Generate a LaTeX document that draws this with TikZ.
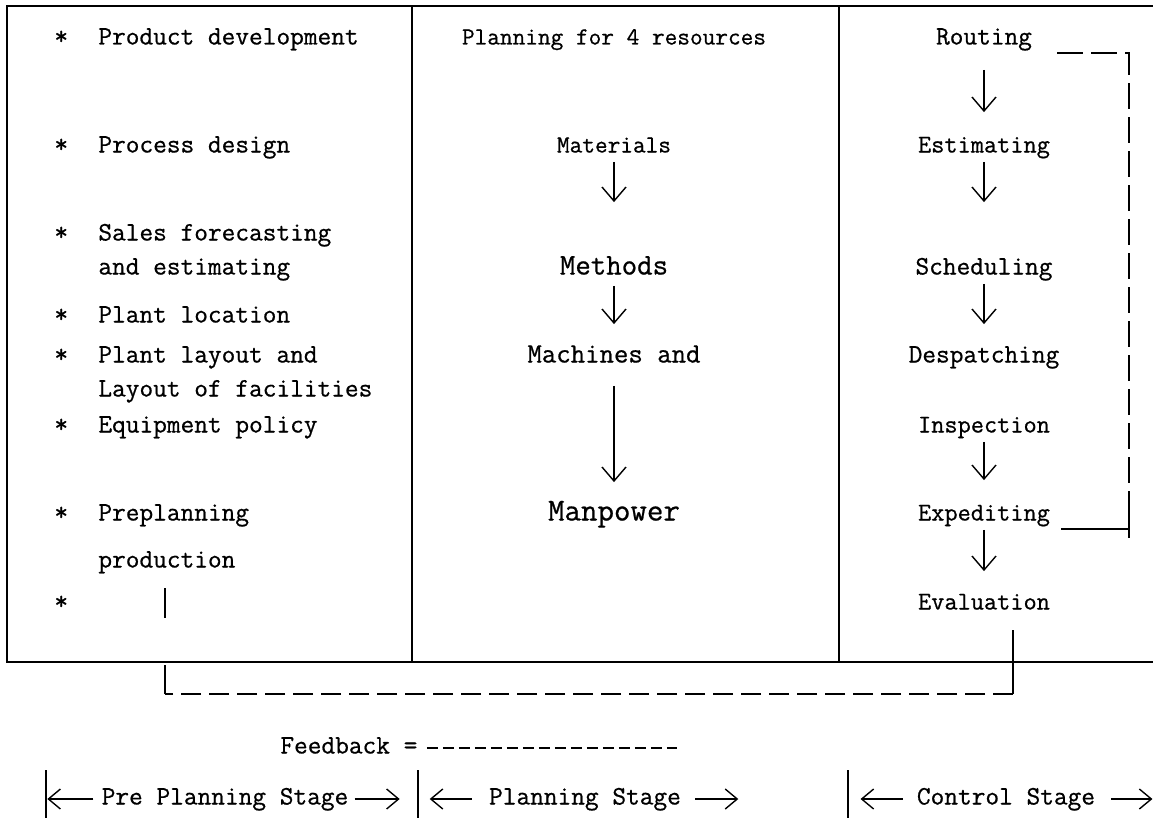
\documentclass[tikz,border=0pt]{standalone}
\usepackage{fontspec}
\setmonofont{Latin Modern Mono}[FakeBold=0.7]
\usetikzlibrary{arrows.meta}
\usetikzlibrary{positioning}

\begin{document}
\begin{tikzpicture}[x=0.5pt,y=-0.5pt]
\tikzstyle{every node}=[font=\ttfamily\fontsize{13.3}{16}\selectfont,inner sep=2pt,text height=8pt,text depth=2.5pt,yshift=-1.5pt]
\tikzstyle{small}=[font=\ttfamily\fontsize{12.3}{15}\selectfont]
\tikzstyle{ctrl}=[font=\ttfamily\fontsize{12.8}{15}\selectfont]
\tikzstyle{flow}=[-{Straight Barb[length=7pt,width=12pt]},line width=0.7pt,shorten >=9pt]
\tikzstyle{stage}=[-{Straight Barb[length=6pt,width=10pt]},line width=0.7pt]
\tikzstyle{feed}=[line width=1.2pt,dash pattern=on 10pt off 4pt]
\useasboundingbox (0,0) rectangle (1153,819);

%=== Cadre
\draw[line width=1pt] (1153,6) -- (7,6) -- (7,662) -- (1153,662);
\draw[line width=1pt] (412,6) -- (412,662);
\draw[line width=1pt] (839,6) -- (839,662);

%=== Pre planning
\foreach \y/\n in {36/1,144/2,232/3,314/4,354/5,424/6,512/7,601/8}
  \node[anchor=west] (st\n) at (50,\y) {*};
\node[anchor=west] (prod) at (94,36) {Product development};
\node[anchor=west] (proc) at (94,144) {Process design};
\node[anchor=west] (sale) at (94,232) {Sales forecasting};
\node[anchor=west] (sale2) at (94,266) {and estimating};
\node[anchor=west] (loc) at (94,314) {Plant location};
\node[anchor=west] (lay) at (94,354) {Plant layout and};
\node[anchor=west] (lay2) at (94,388) {Layout of facilities};
\node[anchor=west] (equip) at (94,424) {Equipment policy};
\node[anchor=west] (prep) at (94,512) {Preplanning};
\node[anchor=west] (prep2) at (94,559) {production};

%=== Planning
\node[small] (res) at (614,36) {Planning for 4 resources};
\node[small] (mat) at (614,144) {Materials};
\node[font=\ttfamily\fontsize{15}{17}\selectfont] (meth) at (614,266) {Methods};
\node[font=\ttfamily\fontsize{14}{16}\selectfont] (mach) at (614,354) {Machines and};
\node[font=\ttfamily\fontsize{16}{18}\selectfont] (man) at (614,512) {Manpower};
\draw[flow,shorten >=26pt] (mat) -- (meth);
\draw[flow,shorten <=1pt] (meth) -- (mach);
\draw[flow,shorten <=7pt] (mach) -- (man);

%=== Control
\node (rout) at (984,36) {Routing};
\node[ctrl] (est) at (984,144) {Estimating};
\node (sched) at (984,266) {Scheduling};
\node (desp) at (984,354) {Despatching};
\node[ctrl] (insp) at (984,424) {Inspection};
\node[ctrl] (exped) at (984,512) {Expediting};
\node[ctrl] (eval) at (984,601) {Evaluation};
\draw[flow,shorten <=8pt,shorten >=10pt] (rout) -- (est);
\draw[flow,shorten >=26pt] (est) -- (sched);
\draw[flow] (sched) -- (desp);
\draw[flow,shorten >=10pt] (insp) -- (exped);
\draw[flow] (exped) -- (eval);

% Boucle de controle
\coordinate (rA) at (1057,50);
\coordinate (lpT) at (1129,50);
\coordinate (lpB) at (1129,535);
\coordinate (eA) at (1061,526);
\coordinate (eB) at (1129,526);
\draw[feed,dash pattern=on 13pt off 4pt] (rA) -- (lpT) -- (lpB);
\draw[line width=1.2pt] (eA) -- (eB);
\draw[line width=1.2pt] (1129,508) -- (lpB);

% Feedback
\coordinate (evT) at (1013,627);
\coordinate (evB) at (1013,691);
\coordinate (ppB) at (165,691);
\coordinate (ppT) at (165,662);
\draw[line width=1.2pt] (evT) -- (evB);
\draw[feed] (evB) -- (ppB);
\draw[line width=1.2pt] (ppB) -- (ppT);
\draw[line width=1.2pt] (165,588) -- (165,618);

%=== Legende
\node[anchor=west] (fbk) at (276,745) {Feedback =};
\draw[line width=0.6pt,dash pattern=on 5.5pt off 2.5pt] (fbk.east) ++(5,0) -- ++(250,0);

%=== Etapes
\draw[line width=0.8pt] (46,770) -- (46,818);
\draw[line width=0.8pt] (418,770) -- (418,818);
\draw[line width=0.8pt] (848,770) -- (848,818);
\node (pre) at (225,796) {Pre Planning Stage};
\node (pln) at (585,796) {Planning Stage};
\node (ctl) at (1006,796) {Control Stage};
\draw[stage] (pre.west) ++(-4,0) -- ++(-46,0);
\draw[stage] (pre.east) ++(2,0) -- ++(45,0);
\draw[stage] (pln.west) ++(-13,0) -- ++(-42,0);
\draw[stage] (pln.east) ++(10,0) -- ++(43,0);
\draw[stage] (ctl.west) ++(-10,0) -- ++(-42,0);
\draw[stage] (ctl.east) ++(12,0) -- ++(41,0);
\end{tikzpicture}
\end{document}
